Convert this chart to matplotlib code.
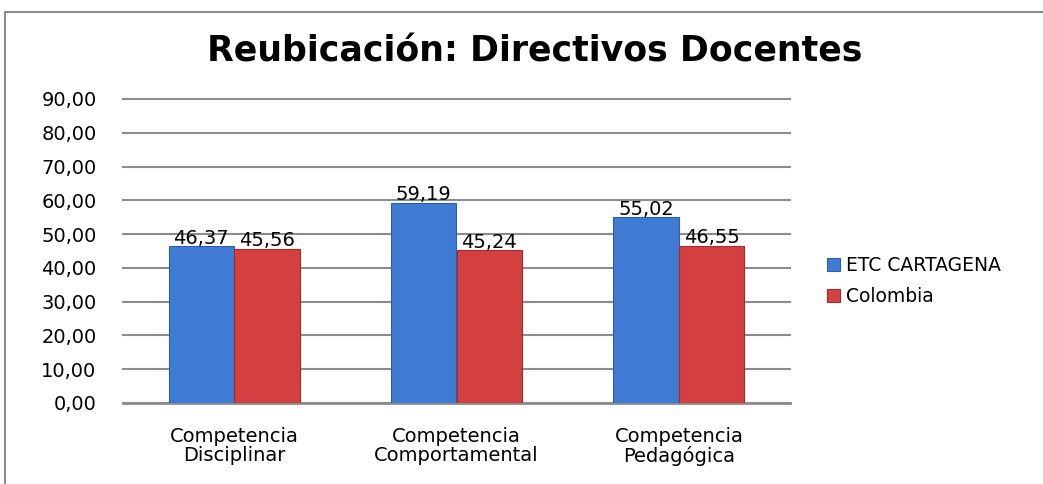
import matplotlib.pyplot as plt
import numpy as np
from matplotlib.patches import Rectangle

categories = ["Competencia\nDisciplinar", "Competencia\nComportamental", "Competencia\nPedagógica"]
etc_cartagena = [46.37, 59.19, 55.02]
colombia = [45.56, 45.24, 46.55]
yticks = np.arange(0, 91, 10)

plt.rcParams['font.family'] = ['DejaVu Sans']

fig = plt.figure(figsize=(10.43, 4.84), dpi=100)
# outer chart border
fig.patches.append(Rectangle((5 / 1043, -0.01), 1.1, 1 - 12 / 484 + 0.01, transform=fig.transFigure,
                             fill=False, edgecolor='#8c8c8c', linewidth=1.5))

ax = fig.add_axes([123 / 1043, 1 - 403 / 484, 667 / 1043, 304 / 484])
x = np.arange(len(categories))
w = 0.295

b1 = ax.bar(x - w / 2, etc_cartagena, w, color='#3f7bd4', edgecolor='#2d5ea8', linewidth=0.8,
            label='ETC CARTAGENA', zorder=3)
b2 = ax.bar(x + w / 2, colombia, w, color='#d43f3f', edgecolor='#a52a2a', linewidth=0.8,
            label='Colombia', zorder=3)

for bars, vals in ((b1, etc_cartagena), (b2, colombia)):
    for rect, v in zip(bars, vals):
        ax.text(rect.get_x() + rect.get_width() / 2, v - 0.4, f"{v:.2f}".replace('.', ','),
                ha='center', va='bottom', fontsize=14)

ax.set_xlim(-0.5, 2.5)
ax.set_ylim(0, 90)
ax.set_yticks(yticks)
ax.set_yticklabels([f"{t:.2f}".replace('.', ',') for t in yticks], fontsize=14)
ax.set_xticks(x)
ax.set_xticklabels(categories, fontsize=14, linespacing=1.0)
ax.tick_params(axis='x', length=0, pad=17)
ax.tick_params(axis='y', length=0, pad=19)
ax.grid(axis='y', color='#8c8c8c', linewidth=1.5, zorder=0)
for gl in ax.get_ygridlines():
    gl.set_clip_on(False)
for s in ('top', 'right', 'left'):
    ax.spines[s].set_visible(False)
ax.spines['bottom'].set_color('#8c8c8c')
ax.spines['bottom'].set_linewidth(2)

fig.text(0.513, 1 - 52 / 484, "Reubicación: Directivos Docentes", ha='center', va='center',
         fontsize=25, fontweight='bold')

ax.legend(loc='center left', bbox_to_anchor=(1.03, 0.40), frameon=False, fontsize=13.5,
          handlelength=0.7, handleheight=0.7, handletextpad=0.3, labelspacing=0.65)

fig.savefig('out.png', dpi=100)
